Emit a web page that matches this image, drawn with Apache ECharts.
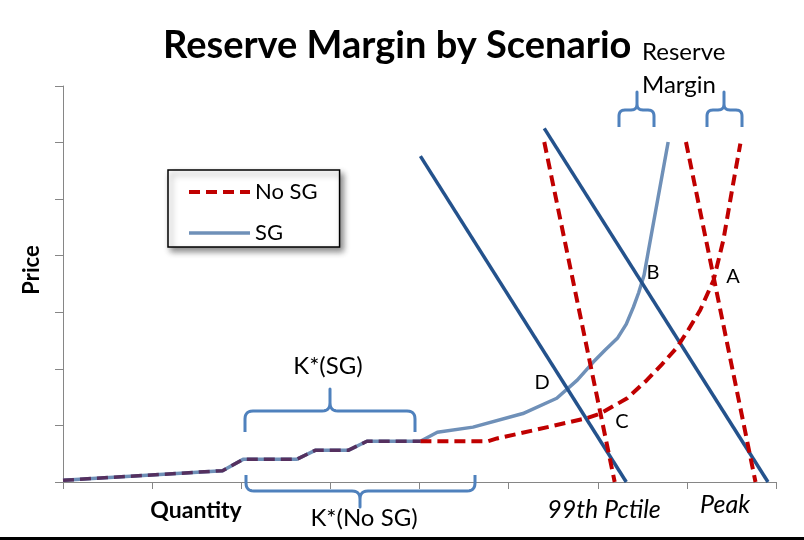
<!DOCTYPE html>
<html>
<head>
<meta charset="utf-8">
<script src="https://cdn.jsdelivr.net/npm/echarts@6/dist/echarts.min.js"></script>
<style>
  html, body { margin: 0; padding: 0; background: #ffffff; }
  #chart { width: 804px; height: 540px; }
</style>
</head>
<body>
<div id="chart"></div>
<script>
// Supply curve with smart grid (SG)
const sgQuantity = [0, 1.79, 2.02, 2.62, 2.83, 3.20, 3.41, 4.01, 4.20, 4.60, 5.16, 5.54, 5.77, 5.95, 6.08, 6.22, 6.32, 6.40, 6.46, 6.52, 6.57, 6.79];
const sgPrice    = [0.03, 0.20, 0.40, 0.40, 0.56, 0.56, 0.72, 0.72, 0.88, 0.97, 1.21, 1.48, 1.80, 2.12, 2.33, 2.54, 2.79, 3.09, 3.35, 3.66, 4.10, 6.01];

// Supply curve without smart grid (No SG); identical to SG up to sharedUntil
const noSgQuantity = [0, 1.79, 2.02, 2.62, 2.83, 3.20, 3.41, 4.01, 4.77, 4.87, 5.27, 5.88, 6.03, 6.33, 6.55, 6.72, 6.89, 7.02, 7.15, 7.30, 7.41, 7.52, 7.60];
const noSgPrice    = [0.03, 0.20, 0.40, 0.40, 0.56, 0.56, 0.72, 0.72, 0.72, 0.77, 0.91, 1.13, 1.21, 1.48, 1.80, 2.08, 2.38, 2.70, 3.04, 3.57, 4.28, 5.28, 5.98];
const sharedUntil = 4.01;

// Demand lines (top and bottom end points)
const demand99SgQ   = [4.01, 6.32];
const demand99SgP   = [5.76, 0];
const demandPeakSgQ = [5.40, 7.91];
const demandPeakSgP = [6.25, 0];
const demand99NoSgQ   = [5.40, 6.19];
const demand99NoSgP   = [6.01, 0];
const demandPeakNoSgQ = [6.99, 7.77];
const demandPeakNoSgP = [6.01, 0];

const legendNames = ['No SG', 'SG'];

const FONT = 'Lato, "Open Sans", sans-serif';
const RED = '#c00000';
const SG_BLUE = '#6f90b8';
const NAVY = '#24528c';
const BRACE = '#4f81bd';
const SHARED = '#55305f';

const zip = (xs, ys) => xs.map((x, i) => [x, ys[i]]);
const noSgPoints = zip(noSgQuantity, noSgPrice);

// Curly brace drawn as a polyline with rounded corners
function brace(x0, x1, xTip, yEnd, yBar, yTip, r) {
  const d = Math.sign(yEnd - yBar);
  const pts = [[x0, yEnd]];
  const q = (p0, c, p1) => {
    for (let i = 0; i <= 6; i++) {
      const t = i / 6, u = 1 - t;
      pts.push([u * u * p0[0] + 2 * u * t * c[0] + t * t * p1[0],
                u * u * p0[1] + 2 * u * t * c[1] + t * t * p1[1]]);
    }
  };
  q([x0, yBar + d * r], [x0, yBar], [x0 + r, yBar]);
  q([xTip - r, yBar], [xTip, yBar], [xTip, yBar - d * r]);
  pts.push([xTip, yTip]);
  q([xTip, yBar - d * r], [xTip, yBar], [xTip + r, yBar]);
  q([x1 - r, yBar], [x1, yBar], [x1, yBar + d * r]);
  pts.push([x1, yEnd]);
  return {
    type: 'polyline',
    shape: { points: pts },
    style: { stroke: BRACE, lineWidth: 3, fill: null, lineJoin: 'round' },
    z: 10
  };
}

function label(text, x, y, opts) {
  opts = opts || {};
  return {
    type: 'text',
    x: x, y: y,
    rotation: opts.rotation || 0,
    style: {
      text: text,
      fill: '#000',
      font: (opts.style || 'normal') + ' ' + (opts.weight || 'normal') + ' ' + (opts.size || 20) + 'px ' + FONT,
      textAlign: opts.align || 'center',
      textVerticalAlign: 'middle'
    },
    z: 10
  };
}

function demandLine(name, xs, ys, color, dashed) {
  return {
    name: name,
    type: 'line',
    data: zip(xs, ys),
    symbol: 'none',
    silent: true,
    lineStyle: { color: color, width: dashed ? 4 : 3.5, type: dashed ? [11, 6] : 'solid' },
    z: 3
  };
}

const chart = echarts.init(document.getElementById('chart'), null, { renderer: 'canvas' });

chart.setOption({
  animation: false,
  backgroundColor: '#ffffff',
  title: {
    text: 'Reserve Margin by Scenario',
    left: 158,
    top: 22,
    textStyle: { fontFamily: FONT, fontWeight: 'bold', fontSize: 38, color: '#000' }
  },
  grid: { left: 63, right: 28, top: 86, bottom: 58 },
  legend: {
    data: [
      { name: legendNames[0], lineStyle: { width: 4 } },
      { name: legendNames[1], lineStyle: { width: 3.5 } }
    ],
    orient: 'vertical',
    left: 168,
    top: 170,
    itemWidth: 61,
    itemHeight: 16,
    itemGap: 19,
    padding: [11, 22, 3, 19],
    textStyle: { fontFamily: FONT, fontSize: 22, color: '#000' },
    itemStyle: { opacity: 0 },
    backgroundColor: '#ffffff',
    borderColor: '#000',
    borderWidth: 1.5,
    borderRadius: 0,
    shadowBlur: 6,
    shadowOffsetX: 3,
    shadowOffsetY: 4,
    shadowColor: 'rgba(0,0,0,0.45)',
    selectedMode: false
  },
  xAxis: {
    type: 'value', min: 0, max: 8, interval: 1,
    axisLine: { show: true, lineStyle: { color: '#868686', width: 1 } },
    axisTick: { show: true, length: 7, lineStyle: { color: '#868686' } },
    axisLabel: { show: false },
    splitLine: { show: false }
  },
  yAxis: {
    type: 'value', min: 0, max: 7, interval: 1,
    axisLine: { show: true, lineStyle: { color: '#868686', width: 1 } },
    axisTick: { show: true, length: 8, lineStyle: { color: '#868686' } },
    axisLabel: { show: false },
    splitLine: { show: false }
  },
  series: [
    {
      name: 'SG',
      type: 'line',
      data: zip(sgQuantity, sgPrice),
      symbol: 'none',
      lineStyle: { color: SG_BLUE, width: 3.5, join: 'round' },
      itemStyle: { color: SG_BLUE },
      z: 2
    },
    {
      name: 'No SG',
      type: 'line',
      data: noSgPoints.filter(p => p[0] >= sharedUntil),
      symbol: 'none',
      lineStyle: { color: RED, width: 4, type: [11, 6] },
      itemStyle: { color: RED },
      z: 4
    },
    {
      name: 'Shared supply',
      type: 'line',
      data: noSgPoints.filter(p => p[0] <= sharedUntil),
      symbol: 'none',
      lineStyle: { color: SHARED, width: 3.5, type: [11, 6] },
      z: 4
    },
    demandLine('Demand 99th (SG)', demand99SgQ, demand99SgP, NAVY, false),
    demandLine('Demand peak (SG)', demandPeakSgQ, demandPeakSgP, NAVY, false),
    demandLine('Demand 99th (No SG)', demand99NoSgQ, demand99NoSgP, RED, true),
    demandLine('Demand peak (No SG)', demandPeakNoSgQ, demandPeakNoSgP, RED, true)
  ],
  graphic: [
    { type: 'rect', shape: { x: 0, y: 537, width: 804, height: 3 }, style: { fill: '#000' }, z: 10 },
    brace(619, 654, 637, 127, 110, 92, 6),
    brace(707, 742, 724, 127, 110, 92, 6),
    brace(245, 415, 330, 432, 411, 389, 8),
    brace(246, 475, 360, 475, 491, 507, 8),
    label('Price', 32, 270, { weight: 'bold', size: 22, rotation: Math.PI / 2 }),
    label('Reserve', 642, 52, { align: 'left', size: 24 }),
    label('Margin', 642, 85, { align: 'left', size: 24 }),
    label('K*(SG)', 328, 366, { size: 24 }),
    label('K*(No SG)', 364, 518, { size: 24 }),
    label('Quantity', 196, 511, { weight: 'bold', size: 23 }),
    label('99th Pctile', 604, 510, { style: 'italic', size: 25 }),
    label('Peak', 725, 505, { style: 'italic', size: 25 }),
    label('A', 733, 277, { size: 20 }),
    label('B', 653, 273, { size: 20 }),
    label('C', 622, 422, { size: 20 }),
    label('D', 542, 383, { size: 20 })
  ]
});
</script>
</body>
</html>
